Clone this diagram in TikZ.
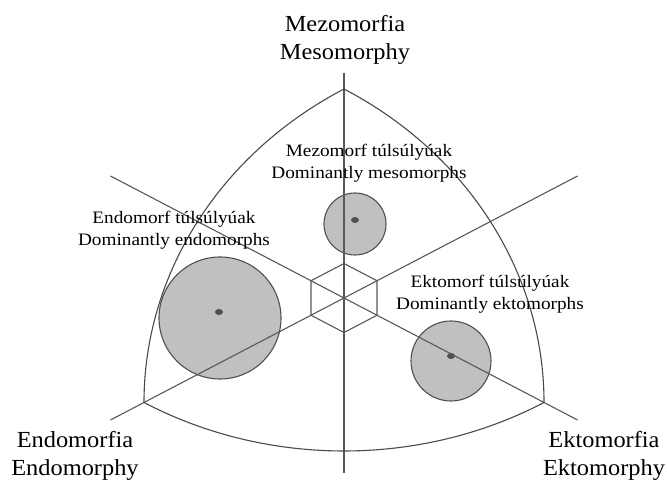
\documentclass[tikz,border=0pt]{standalone}
\usepackage{fontspec}
\setmainfont{Liberation Serif}
\newfontfamily\bigf[FakeStretch=1.06]{Liberation Serif}
\newfontfamily\smallf[FakeStretch=1.1]{Liberation Serif}
\definecolor{axiscol}{HTML}{585858}
\definecolor{rimcol}{HTML}{4A4A4A}
\definecolor{blobfill}{HTML}{C0C0C0}
\definecolor{blobline}{HTML}{505050}
\tikzset{
  axis/.style={draw=axiscol, line width=1.1pt},
  rim/.style={draw=rimcol, line width=1.1pt},
  hexa/.style={draw=axiscol, line width=1.1pt},
  blob/.style={circle, fill=blobfill, draw=blobline, line width=1.1pt, inner sep=0pt},
  dotc/.style={ellipse, fill=blobline, draw=none, minimum width=8pt, minimum height=6pt, inner sep=0pt},
  biglab/.style={anchor=base, align=center, font=\bigf\fontsize{23}{28}\selectfont, inner sep=0pt},
  smalllab/.style={anchor=base, align=center, font=\smallf\fontsize{17.5}{22}\selectfont, inner sep=0pt}
}
\usetikzlibrary{shapes.geometric}
\begin{document}
\begin{tikzpicture}[x=1pt,y=1pt]
\useasboundingbox (0,0) rectangle (667,481);
% circles (under the lines)
\node[blob, minimum size=62pt] (meso) at (355,257) {};
\node[blob, minimum size=122pt] (endo) at (220,163) {};
\node[blob, minimum size=80pt] (ecto) at (451,120) {};
\begin{scope}[shift={(344,183)},xscale=1.105]
  \coordinate (O) at (0,0);
  \coordinate (T) at (90:209);
  \coordinate (BL) at (210:209);
  \coordinate (BR) at (330:209);
  \coordinate (vt) at (0,225);
  \coordinate (vb) at (0,-175);
  \coordinate (ul) at (150:244);
  \coordinate (lr) at (330:244);
  \coordinate (ur) at (30:244);
  \coordinate (ll) at (210:244);
  \draw[axis] (vt) -- (vb);
  \draw[axis] (ul) -- (lr);
  \draw[axis] (ur) -- (ll);
  \draw[rim] (T) arc[start angle=120,end angle=180,radius=362]
                 arc[start angle=240,end angle=300,radius=362]
                 arc[start angle=0,end angle=60,radius=362] -- cycle;
  \draw[hexa] (90:34.5) -- (150:34.5) -- (210:34.5) -- (270:34.5) -- (330:34.5) -- (30:34.5) -- cycle;
\end{scope}
\node[dotc] (mesodot) at (355,261) {};
\node[dotc] (endodot) at (219,169) {};
\node[dotc] (ectodot) at (451,125) {};
% labels (anchor base = baseline of the last line)
\node[biglab] (mesolab) at (345,421) {Mezomorfia\\Mesomorphy};
\node[biglab] (endolab) at (75,5) {Endomorfia\\Endomorphy};
\node[biglab] (ectolab) at (604,5) {Ektomorfia\\Ektomorphy};
\node[smalllab] (mesotxt) at (369,302) {Mezomorf túlsúlyúak\\Dominantly mesomorphs};
\node[smalllab] (endotxt) at (174,235) {Endomorf túlsúlyúak\\Dominantly endomorphs};
\node[smalllab] (ectotxt) at (490,171) {Ektomorf túlsúlyúak\\Dominantly ektomorphs};
\end{tikzpicture}
\end{document}
